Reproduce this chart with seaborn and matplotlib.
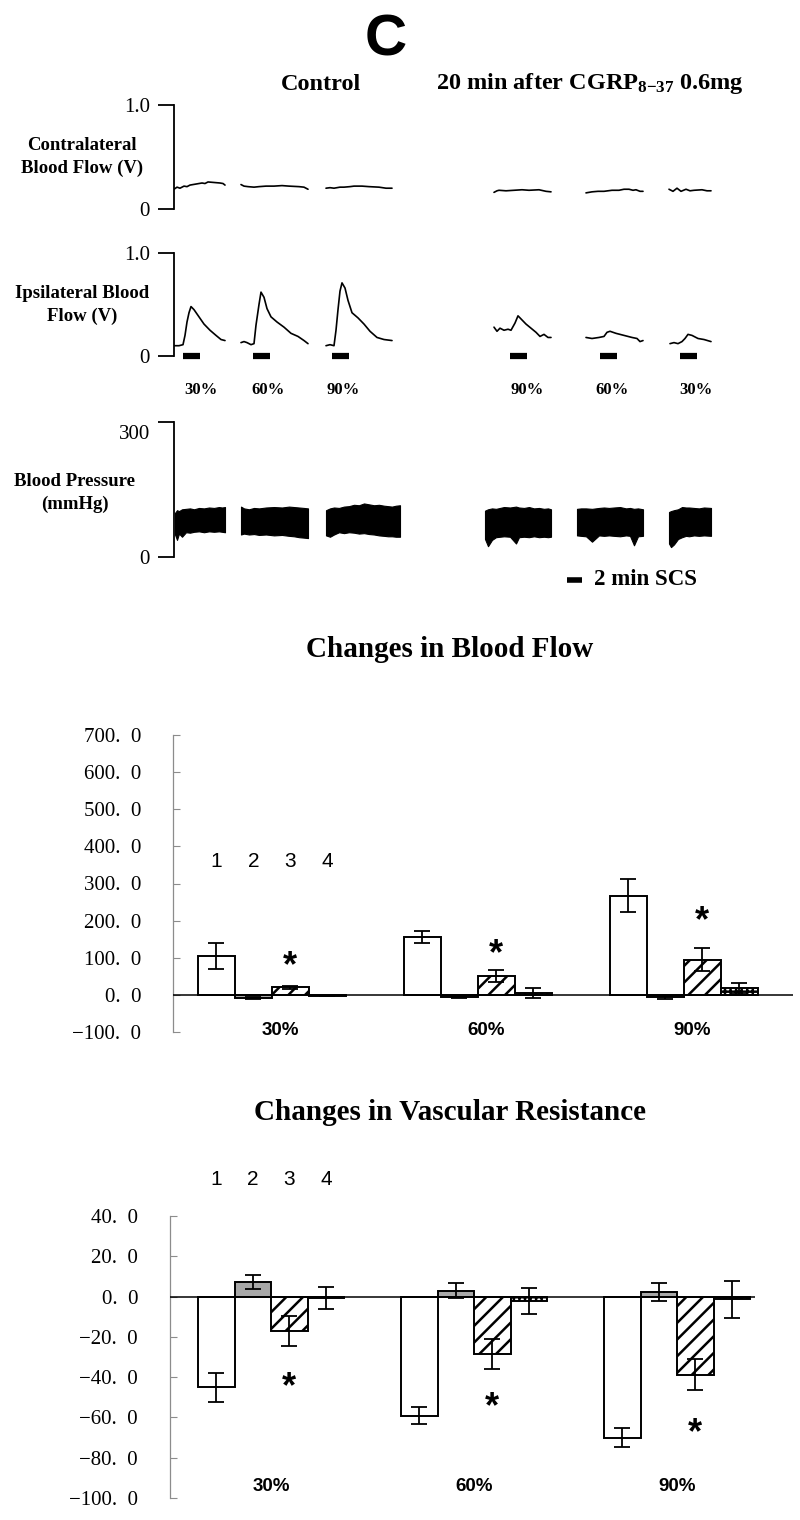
import matplotlib
matplotlib.use("Agg")
import pandas as pd
import seaborn as sns
import matplotlib.pyplot as plt
import matplotlib.transforms as mtransforms

# ---------- recorded traces (time from start of record, arbitrary units) ----------
# contralateral blood flow (V), one list of (t, v) per stimulation segment
contra_segments = [
    [(0, .19), (3, .21), (6, .20), (10, .22), (13, .215), (16, .23), (22, .24), (28, .25), (31, .245), (34, .26),
     (40, .255), (46, .25), (49, .245), (51, .23)],
    [(67, .235), (70, .22), (74, .215), (80, .21), (85, .215), (92, .22), (100, .22), (108, .225), (115, .22),
     (125, .215), (130, .21), (134, .19)],
    [(152, .20), (156, .205), (160, .20), (166, .21), (170, .21), (176, .215), (180, .22), (188, .22), (195, .215),
     (205, .21), (212, .20), (218, .20)],
    [(320, .16), (323, .175), (325, .18), (332, .175), (340, .18), (348, .185), (355, .18), (365, .185), (372, .17),
     (377, .165)],
    [(412, .155), (418, .165), (424, .17), (430, .17), (438, .18), (445, .18), (450, .19), (455, .19), (459, .18),
     (462, .185), (466, .17), (469, .17)],
    [(495, .19), (499, .17), (503, .20), (507, .17), (512, .19), (516, .175), (520, .18), (528, .185), (533, .175),
     (537, .175)],
]
# ipsilateral blood flow (V)
ipsi_segments = [
    [(0, .10), (5, .10), (9, .11), (11, .20), (13, .33), (15, .42), (17, .48), (20, .45), (25, .38), (30, .31),
     (36, .25), (42, .20), (47, .16), (51, .15)],
    [(67, .13), (70, .14), (73, .13), (77, .11), (80, .12), (82, .30), (85, .50), (87, .62), (90, .57), (93, .46),
     (97, .38), (103, .33), (110, .28), (117, .22), (124, .19), (130, .15), (134, .12)],
    [(152, .10), (156, .11), (160, .10), (162, .25), (164, .45), (166, .63), (168, .71), (171, .66), (174, .54),
     (178, .42), (184, .37), (190, .31), (196, .24), (203, .18), (210, .16), (218, .15)],
    [(320, .28), (323, .24), (326, .27), (330, .25), (334, .26), (337, .25), (341, .32), (344, .39), (347, .36),
     (352, .31), (357, .27), (362, .23), (366, .19), (370, .21), (374, .18), (377, .18)],
    [(412, .18), (418, .17), (425, .18), (430, .19), (433, .23), (436, .24), (442, .22), (450, .20), (458, .18),
     (463, .17), (466, .14), (469, .15)],
    [(496, .12), (500, .13), (504, .12), (508, .14), (511, .17), (514, .21), (518, .20), (524, .17), (530, .16),
     (537, .14)],
]
# blood pressure envelope (mmHg): time, systolic top, diastolic bottom
bp_t = [[1, 3, 5, 8, 12, 16, 20, 25, 30, 35, 40, 45, 48, 51],
        [67, 70, 75, 80, 85, 92, 100, 108, 115, 120, 125, 130, 134],
        [152, 156, 160, 165, 170, 175, 180, 185, 190, 195, 200, 205, 210, 214, 218, 222, 226],
        [311, 314, 318, 322, 326, 330, 336, 342, 345, 350, 355, 360, 365, 370, 374, 377],
        [403, 407, 412, 418, 425, 430, 435, 440, 446, 452, 456, 460, 464, 469],
        [495, 497, 500, 504, 508, 512, 515, 520, 525, 530, 537]]
bp_hi = [[98, 104, 102, 106, 107, 108, 106, 109, 108, 110, 109, 111, 110, 111],
         [112, 108, 106, 109, 108, 110, 111, 110, 112, 111, 110, 109, 108],
         [104, 108, 110, 109, 112, 113, 116, 115, 119, 117, 115, 116, 114, 113, 112, 114, 115],
         [103, 106, 108, 107, 109, 111, 110, 112, 110, 109, 111, 108, 109, 107, 108, 106],
         [107, 108, 108, 107, 109, 110, 109, 110, 111, 108, 109, 107, 108, 106],
         [100, 102, 104, 106, 111, 110, 110, 109, 108, 110, 109]]
bp_lo = [[50, 38, 52, 45, 55, 54, 56, 57, 55, 57, 56, 57, 56, 55],
         [50, 52, 50, 51, 49, 50, 48, 49, 47, 46, 44, 43, 42],
         [48, 45, 50, 55, 53, 55, 54, 52, 53, 51, 50, 48, 47, 46, 46, 45, 45],
         [40, 24, 38, 44, 45, 46, 45, 30, 44, 45, 44, 46, 44, 45, 44, 45],
         [48, 47, 46, 34, 48, 47, 48, 47, 46, 48, 47, 26, 46, 47],
         [30, 22, 28, 40, 44, 47, 46, 48, 47, 48, 47]]

stim_start = [9, 79, 158, 336, 426, 506]
stim_len = 17
stim_labels = ["30%", "60%", "90%", "90%", "60%", "30%"]
stim_label_t = [27, 94, 169, 353, 438, 522]

# ---------- bar charts ----------
groups = ["30%", "60%", "90%"]
bar_ids = ["1", "2", "3", "4"]

flow_1 = [106, 156, 267]
flow_2 = [-8, -6, -7]
flow_3 = [21, 50, 95]
flow_4 = [-3, 4.5, 18]
flow_1_err = [35, 17, 45]
flow_2_err = [2, 2, 3]
flow_3_err = [4, 16, 32]
flow_4_err = [1, 13, 15]
flow_star = [99, 133, 221]

vr_1 = [-45, -59.2, -70]
vr_2 = [7.3, 3, 2.2]
vr_3 = [-17.2, -28.5, -38.7]
vr_4 = [-0.8, -2.3, -1.3]
vr_1_err = [7.3, 4.3, 4.7]
vr_2_err = [3.6, 3.6, 4.6]
vr_3_err = [7.5, 7.3, 7.8]
vr_4_err = [5.4, 6.5, 9.1]
vr_star = [-41, -50.5, -63.5]

sns.set_style("white")
plt.rcParams["text.color"] = "black"
plt.rcParams["ytick.color"] = "black"
plt.rcParams["ytick.labelcolor"] = "black"
plt.rcParams["hatch.color"] = "black"
plt.rcParams["hatch.linewidth"] = 1.8
plt.rcParams["mathtext.fontset"] = "custom"
plt.rcParams["mathtext.rm"] = "Liberation Serif:bold"
plt.rcParams["mathtext.bf"] = "Liberation Serif:bold"
plt.rcParams["mathtext.it"] = "Liberation Serif:bold"
plt.rcParams["mathtext.default"] = "bf"

SERIF = ["Liberation Serif", "DejaVu Serif"]
SANS = ["Liberation Sans", "DejaVu Sans"]
W, H = 800, 1520
fig = plt.figure(figsize=(W / 100, H / 100), dpi=100)


def box(l, t, r, b):
    return fig.add_axes([l / W, 1 - b / H, (r - l) / W, (b - t) / H])


def ftext(x, y, s, **kw):
    fig.text(x / W, 1 - y / H, s, **kw)


# ---------------- top: traces ----------------
ftext(386, 40, "C", ha="center", va="center", fontsize=42, fontweight="bold", family=SANS)
ftext(321, 84, "Control", ha="center", va="center", fontsize=17.5, fontweight="bold", family=SERIF)
ftext(590, 84, r"20 min after CGRP$_{8\mathrm{-}37}$ 0.6mg", ha="center", va="center",
      fontsize=17.5, fontweight="bold", family=SERIF)

lab_kw = dict(ha="center", va="center", fontsize=13.5, fontweight="bold", family=SERIF, linespacing=1.45)
ftext(82, 157, "Contralateral\nBlood Flow (V)", **lab_kw)
ftext(82, 305, "Ipsilateral Blood\nFlow (V)", **lab_kw)
ftext(75, 493, "Blood Pressure\n(mmHg)", **lab_kw)


def trace_axes(top, bottom, ymax, ticklabels):
    ax = box(174, top, 734, bottom)
    ax.set_xlim(0, 560)
    ax.set_ylim(0, ymax)
    sns.despine(ax=ax, bottom=True)
    ax.spines["left"].set_linewidth(1.3)
    ax.spines["left"].set_color("black")
    ax.set_xticks([])
    ax.set_yticks([0, ymax], labels=ticklabels, fontsize=15, family=SERIF)
    ax.tick_params(axis="y", left=True, direction="out", length=11.5, width=1.3, pad=6, color="black")
    ax.patch.set_alpha(0)
    return ax


ax_c = trace_axes(105, 209, 1.0, ["0", "1.0"])
for seg in contra_segments:
    d = pd.DataFrame(seg, columns=["t", "v"])
    sns.lineplot(data=d, x="t", y="v", ax=ax_c, color="black", lw=1.2, estimator=None, sort=False)
ax_c.set_xlabel("")
ax_c.set_ylabel("")

ax_i = trace_axes(253, 356, 1.0, ["0", "1.0"])
for seg in ipsi_segments:
    d = pd.DataFrame(seg, columns=["t", "v"])
    sns.lineplot(data=d, x="t", y="v", ax=ax_i, color="black", lw=1.2, estimator=None, sort=False)
ax_i.set_xlabel("")
ax_i.set_ylabel("")
for s0, lab, lt in zip(stim_start, stim_labels, stim_label_t):
    ax_i.plot([s0, s0 + stim_len], [0, 0], color="black", lw=4.5, solid_capstyle="butt", clip_on=False)
    ax_i.text(lt, -0.33, lab, ha="center", va="center", fontsize=12, fontweight="bold", family=SERIF)

ax_p = trace_axes(422, 557, 300, ["0", "300"])
shift = mtransforms.ScaledTranslation(0, -10 / 100, fig.dpi_scale_trans)
top_lab = ax_p.get_yticklabels()[1]
top_lab.set_transform(top_lab.get_transform() + shift)
for t, hi, lo in zip(bp_t, bp_hi, bp_lo):
    ax_p.fill_between(t, lo, hi, color="black", lw=0.8, edgecolor="black")
ax_p.plot([393, 408], [-51, -51], color="black", lw=4, solid_capstyle="butt", clip_on=False)
ax_p.text(420, -51, "2 min SCS", ha="left", va="center", fontsize=16.5, fontweight="bold", family=SERIF)


# ---------------- bottom: bar charts ----------------
def bar_chart(ax, means, errs, stars, ylim, yticks, xlim, num_y, grp_y, grp_dx):
    rows = []
    for b, vals in zip(bar_ids, means):
        for g, v in zip(groups, vals):
            rows.append({"group": g, "bar": b, "value": v})
    df = pd.DataFrame(rows)
    sns.barplot(data=df, x="group", y="value", hue="bar", order=groups, hue_order=bar_ids,
                palette=["white", "#a8a8a8", "white", "white"], saturation=1, width=0.72,
                edgecolor="black", linewidth=1.4, errorbar=None, legend=False, ax=ax)
    hatches = ["", "", "//", "+++"]
    bar_conts = list(ax.containers)
    centers = []
    for k, cont in enumerate(bar_conts):
        xs = []
        for p in cont:
            p.set_hatch(hatches[k])
            xs.append(p.get_x() + p.get_width() / 2)
        centers.append(xs)
    for k in range(len(bar_ids)):
        ax.errorbar(centers[k], means[k], yerr=errs[k], fmt="none", ecolor="black", elinewidth=1.3,
                    capsize=6, capthick=1.3, zorder=5)
    ax.axhline(0, color="black", lw=1.1, zorder=4)
    star_tr = ax.transData + mtransforms.ScaledTranslation(0, -9 / 100, fig.dpi_scale_trans)
    for i, s in enumerate(stars):
        ax.text(centers[2][i], s, "*", ha="center", va="center", fontsize=26, fontweight="bold",
                family=SANS, transform=star_tr)
    for k, b in enumerate(bar_ids):
        ax.text(centers[k][0], num_y, b, ha="center", va="center", fontsize=15, family=SANS,
                clip_on=False)
    for i, g in enumerate(groups):
        ax.text(i + grp_dx, grp_y, g, ha="center", va="center", fontsize=13.5, fontweight="bold",
                family=SANS, clip_on=False)
    ax.set_xlim(*xlim)
    ax.set_ylim(*ylim)
    ax.set_xticks([])
    ax.set_xlabel("")
    ax.set_ylabel("")
    labels = [(f"{v:.0f}.\u20020").replace("-", "\u2212") for v in yticks]
    ax.set_yticks(yticks, labels=labels, fontsize=15, family=SERIF)
    ax.tick_params(axis="y", left=True, direction="in", length=5, width=0.8, color="#8c8c8c",
                   pad=23, labelcolor="black")
    sns.despine(ax=ax, bottom=True)
    ax.spines["left"].set_color("#8c8c8c")
    ax.spines["left"].set_linewidth(0.9)


ftext(450, 650, "Changes in Blood Flow", ha="center", va="center", fontsize=21, fontweight="bold",
      family=SERIF)
ax_f = box(173, 735, 793, 1032)
bar_chart(ax_f, [flow_1, flow_2, flow_3, flow_4], [flow_1_err, flow_2_err, flow_3_err, flow_4_err],
          flow_star, (-100, 700), list(range(-100, 701, 100)), (-0.48, 2.53), 358, -97, 0.04)

ftext(450, 1113, "Changes in Vascular Resistance", ha="center", va="center", fontsize=21,
      fontweight="bold", family=SERIF)
ax_v = box(170, 1216, 755, 1498)
bar_chart(ax_v, [vr_1, vr_2, vr_3, vr_4], [vr_1_err, vr_2_err, vr_3_err, vr_4_err],
          vr_star, (-100, 40), list(range(-100, 41, 20)), (-0.498, 2.384), 58, -94.5, 0.0)

fig.savefig("out.png", dpi=100)
